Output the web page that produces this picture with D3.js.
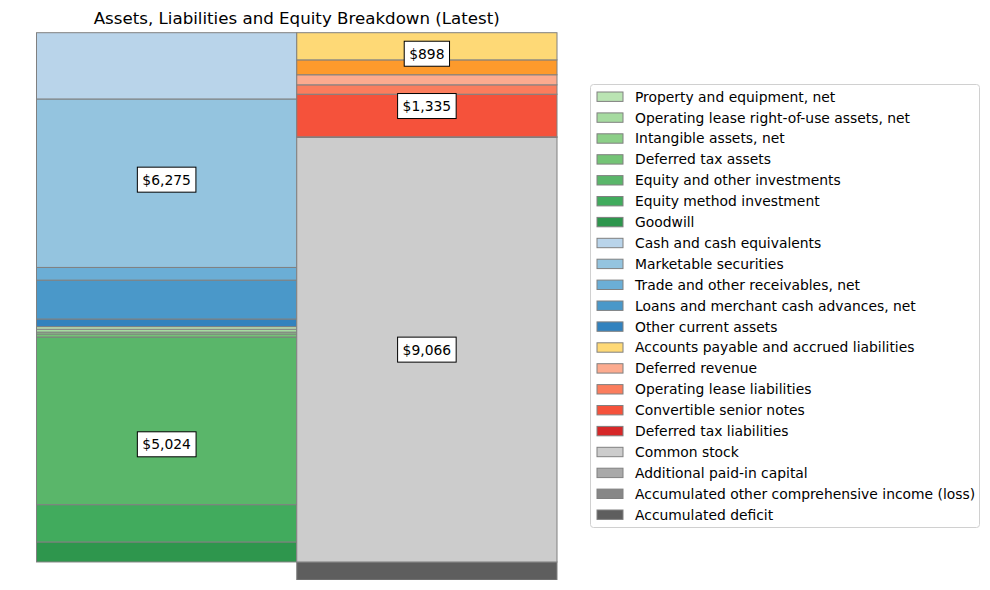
<!DOCTYPE html>
<html>
<head>
<meta charset="utf-8">
<script src="https://cdn.jsdelivr.net/npm/d3@7.9.0/dist/d3.min.js"></script>
<style>
  body { margin: 0; background: #fff; }
  svg { font-family: "DejaVu Sans", sans-serif; }
</style>
</head>
<body>
<svg id="chart" width="990" height="590"></svg>
<script>
// balance sheet items, $M
const currentAssetNames = ['Cash and cash equivalents', 'Marketable securities', 'Trade and other receivables, net',
  'Loans and merchant cash advances, net', 'Other current assets'];
const currentAssetValues = [1415, 3596, 271, 830, 163];
const currentAssetColors = ['#b9d4ea', '#94c4df', '#6baed6', '#4a98c9', '#3282be'];

const nonCurrentAssetNames = ['Property and equipment, net', 'Operating lease right-of-use assets, net',
  'Intangible assets, net', 'Deferred tax assets', 'Equity and other investments', 'Equity method investment', 'Goodwill'];
const nonCurrentAssetValues = [55, 62, 40, 64, 3580, 796, 427];
const nonCurrentAssetColors = ['#bae4b3', '#a6dba0', '#8ccf88', '#74c476', '#5ab66a', '#41ab5d', '#2e964d'];

const currentLiabNames = ['Accounts payable and accrued liabilities', 'Deferred revenue'];
const currentLiabValues = [580, 318];
const currentLiabColors = ['#fed976', '#fd9a2c'];

const nonCurrentLiabNames = ['Deferred revenue', 'Operating lease liabilities', 'Convertible senior notes', 'Deferred tax liabilities'];
const nonCurrentLiabValues = [215, 200, 910, 10];
const nonCurrentLiabColors = ['#fcab8f', '#fb7d5d', '#f5523b', '#d62728'];

const equityNames = ['Common stock', 'Additional paid-in capital', 'Accumulated other comprehensive income (loss)', 'Accumulated deficit'];
const equityValues = [9066, 0, 0, -385];
const equityColors = ['#cccccc', '#a9a9a9', '#878787', '#5e5e5e'];

const barNames = ['Assets', 'Liabilities & Equity'];

const groups = [
  { bar: 'Assets', names: nonCurrentAssetNames, values: nonCurrentAssetValues, colors: nonCurrentAssetColors },
  { bar: 'Assets', names: currentAssetNames, values: currentAssetValues, colors: currentAssetColors },
  { bar: 'Liabilities & Equity', names: equityNames, values: equityValues, colors: equityColors },
  { bar: 'Liabilities & Equity', names: nonCurrentLiabNames, values: nonCurrentLiabValues, colors: nonCurrentLiabColors },
  { bar: 'Liabilities & Equity', names: currentLiabNames, values: currentLiabValues, colors: currentLiabColors }
];
// legend follows the order the groups were listed in the statement
const legendGroups = [groups[0], groups[1], groups[4], groups[3], groups[2]];

const svg = d3.select('#chart');
const plot = { left: 36.5, right: 557, top: 32.7, bottom: 580 };

/*stack each bar: groups bottom-up, items inside a group reversed*/
const segments = [];
const groupBoxes = [];
barNames.forEach(bar => {
  let pos = 0, neg = 0;
  groups.filter(g => g.bar === bar).forEach(g => {
    const start = pos;
    g.names.map((n, i) => ({ name: n, value: g.values[i], color: g.colors[i] }))
      .reverse()
      .forEach(d => {
        if (d.value >= 0) { segments.push({ ...d, bar, y0: pos, y1: pos + d.value }); pos += d.value; }
        else { segments.push({ ...d, bar, y0: neg + d.value, y1: neg }); neg += d.value; }
      });
    groupBoxes.push({ bar, y0: start, y1: pos, total: d3.sum(g.values.filter(v => v > 0)) });
  });
});

const x = d3.scaleBand().domain(barNames).range([plot.left, plot.right]).padding(0);
const y = d3.scaleLinear()
  .domain([d3.min(segments, d => d.y0), d3.max(segments, d => d.y1)])
  .range([plot.bottom, plot.top]);

svg.append('clipPath').attr('id', 'clip')
  .append('rect')
  .attr('x', 0).attr('y', plot.top - 2)
  .attr('width', 990).attr('height', plot.bottom - plot.top + 2);

svg.append('g').attr('clip-path', 'url(#clip)')
  .selectAll('rect')
  .data(segments)
  .join('rect')
  .attr('x', d => x(d.bar))
  .attr('width', x.bandwidth())
  .attr('y', d => y(d.y1))
  .attr('height', d => y(d.y0) - y(d.y1))
  .attr('fill', d => d.color)
  .attr('stroke', '#808080')
  .attr('stroke-width', 1);

/*group totals in boxes*/
const fmt = d3.format('$,.0f');
const labels = svg.append('g').selectAll('g')
  .data(groupBoxes)
  .join('g')
  .attr('transform', d => `translate(${x(d.bar) + x.bandwidth() / 2},${(y(d.y0) + y(d.y1)) / 2})`);
labels.append('rect');
labels.append('text')
  .attr('text-anchor', 'middle')
  .attr('dy', '0.35em')
  .attr('font-size', 13.89)
  .attr('fill', '#000')
  .text(d => fmt(d.total));
labels.each(function () {
  const g = d3.select(this);
  const b = g.select('text').node().getBBox();
  g.select('rect')
    .attr('x', b.x - 5).attr('y', -12.5)
    .attr('width', b.width + 10).attr('height', 25)
    .attr('fill', '#fff').attr('stroke', '#000').attr('stroke-width', 1);
});

svg.append('text')
  .attr('x', (plot.left + plot.right) / 2)
  .attr('y', 24)
  .attr('text-anchor', 'middle')
  .attr('font-size', 16.67)
  .text('Assets, Liabilities and Equity Breakdown (Latest)');

/*legend: repeated names keep the last colour*/
const legendMap = new Map();
legendGroups.forEach(g => g.names.forEach((n, i) => legendMap.set(n, g.colors[i])));
const legendData = Array.from(legendMap, ([name, color]) => ({ name, color }));

const lg = svg.append('g').attr('transform', 'translate(590,84)');
lg.append('rect')
  .attr('x', 0.5).attr('y', 0.5)
  .attr('width', 389).attr('height', 443)
  .attr('rx', 3)
  .attr('fill', '#fff').attr('stroke', '#d0d0d0');
const items = lg.selectAll('g.item')
  .data(legendData)
  .join('g')
  .attr('class', 'item')
  .attr('transform', (d, i) => `translate(0,${12.8 + i * 20.9})`);
items.append('rect')
  .attr('x', 7).attr('y', -4.8)
  .attr('width', 26).attr('height', 9.4)
  .attr('fill', d => d.color)
  .attr('stroke', '#808080');
items.append('text')
  .attr('x', 45)
  .attr('dy', '0.35em')
  .attr('font-size', 13.89)
  .text(d => d.name);
</script>
</body>
</html>
